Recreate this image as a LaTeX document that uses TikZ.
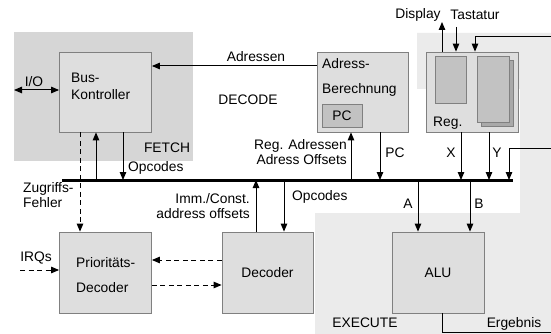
\documentclass[tikz,border=0pt]{standalone}
\usepackage{fontspec}
\setmainfont{Liberation Sans}
\usetikzlibrary{arrows.meta,calc}
\definecolor{boxfill}{HTML}{DEDEDE}
\definecolor{boxline}{HTML}{808080}
\definecolor{fetchbg}{HTML}{D6D6D6}
\definecolor{execbg}{HTML}{EBEBEB}
\definecolor{innerfill}{HTML}{C2C2C2}
\definecolor{backfill}{HTML}{A9A9A9}
\begin{document}
\begin{tikzpicture}[x=1pt,y=-1pt,
  font=\fontsize{13.8}{16}\selectfont,
  box/.style={draw=boxline,fill=boxfill,line width=0.8pt,inner sep=0pt,
    minimum width=92pt,minimum height=80pt},
  subbox/.style={draw=boxline,fill=innerfill,line width=0.8pt},
  arr/.style={-{Triangle[length=8pt,width=6.5pt]},line width=1pt},
  darr/.style={arr,dash pattern=on 5pt off 3.5pt},
  line/.style={line width=1pt},
  lbl/.style={inner sep=0pt}]
\useasboundingbox (0,0) rectangle (551,334);

% stage backgrounds
\fill[fetchbg] (14,32) rectangle (193,161);
\fill[execbg] (417,33) -- (551,33) -- (551,334) -- (315,334) -- (315,213)
  -- (520,213) -- (520,89) -- (417,89) -- cycle;

% blocks
\node[box] (bk) at (105.5,92) {};
\node[box,minimum width=91pt] (ab) at (362.5,92) {};
\node[box] (reg) at (472,92) {};
\node[box,minimum height=81pt] (pd) at (105.5,272.5) {};
\node[box,minimum width=91pt,minimum height=81pt] (dec) at (267.5,272.5) {Decoder};
\node[box,minimum height=81pt] (alu) at (438,272.5) {ALU};

% block texts
\node[lbl,anchor=west] (bkt1) at (71,78) {Bus-};
\node[lbl,anchor=west] (bkt2) at (71,95) {Kontroller};
\node[lbl,anchor=west] (abt1) at (322,64) {Adress-};
\node[lbl,anchor=west] (abt2) at (322,90) {Berechnung};
\node[subbox,minimum width=40pt,minimum height=23pt,inner sep=0pt] (pc) at (342,115.5) {PC};
\node[lbl,anchor=west] (pdt1) at (76,263) {Prioritäts-};
\node[lbl,anchor=west] (pdt2) at (76,288) {Decoder};

% register files inside Reg.
\node[subbox,minimum width=31pt,minimum height=47pt,inner sep=0pt] (r1) at (450.5,79.5) {};
\node[draw=boxline,fill=backfill,line width=0.8pt,minimum width=32pt,minimum height=66pt,inner sep=0pt] (r2b) at (497,93) {};
\node[subbox,minimum width=32pt,minimum height=66pt,inner sep=0pt] (r2) at (493,89) {};
\node[lbl,anchor=west] (regt) at (433,123) {Reg.};

% internal bus
\coordinate (busL) at (62,180);
\coordinate (busR) at (513,180);
\draw[line width=3pt] (busL) -- (busR);

% fetch connections
\coordinate (ioL) at (14,90);
\draw[{Triangle[length=8pt,width=6.5pt]}-{Triangle[length=8pt,width=6.5pt]},line width=1pt] (ioL) -- (ioL -| bk.west);
\node[lbl] (io) at (34,82) {I/O};
\draw[darr] ([xshift=-25.5pt]bk.south) -- ([xshift=-25.5pt]pd.north);
\draw[arr] ([xshift=-9.5pt]bk.south |- busL) -- ([xshift=-9.5pt]bk.south);
\draw[arr] ([xshift=17.5pt]bk.south) -- ([xshift=17.5pt]bk.south |- busL);
\node[lbl,anchor=west] (opc1) at (128,168) {Opcodes};
\node[lbl] (fetch) at (167,148) {FETCH};

% decode connections
\draw[arr] ([yshift=26pt]ab.west) -- ([yshift=26pt]ab.west -| bk.east);
\node[lbl] (adr) at (256,57) {Adressen};
\node[lbl] (decode) at (248,100) {DECODE};
\draw[arr] ([xshift=-11.5pt]ab.south |- busL) -- ([xshift=-11.5pt]ab.south);
\node[lbl,anchor=east,align=right] (rega) at (347,152.5) {Reg. Adressen\\[-1pt]Adress Offsets};
\draw[arr] ([xshift=17.5pt]ab.south) -- ([xshift=17.5pt]ab.south |- busL);
\node[lbl] (pcl) at (395,153) {PC};
\draw[arr] ([xshift=-11.5pt]dec.north) -- ([xshift=-11.5pt]dec.north |- busL);
\node[lbl,anchor=east,align=right] (imm) at (250,206) {Imm./Const.\\[-1pt]address offsets};
\draw[arr] ([xshift=16.5pt]dec.north |- busL) -- ([xshift=16.5pt]dec.north);
\node[lbl,anchor=west] (opc2) at (292,197) {Opcodes};
\node[lbl,anchor=west,align=left] (zf) at (23,195.5) {Zugriffs-\\[-1pt]Fehler};

% interrupt path
\draw[darr] ([yshift=12.5pt]dec.west) -- ([yshift=12.5pt]dec.west -| pd.east);
\draw[darr] ([yshift=-12.5pt]pd.east) -- ([yshift=-12.5pt]pd.east -| dec.west);
\coordinate (irqL) at (20,270);
\draw[darr] (irqL) -- (irqL -| pd.west);
\node[lbl] (irq) at (36,258) {IRQs};

% register file connections
\coordinate (dispT) at (442,22);
\coordinate (tastT) at (456,27);
\draw[arr] (reg.north -| dispT) -- (dispT);
\draw[arr] (tastT) -- (reg.north -| tastT);
\node[lbl] (disp) at (418,15) {Display};
\node[lbl] (tast) at (475,15) {Tastatur};
\coordinate (inR) at (551,37);
\coordinate (inC) at (475,37);
\draw[arr] (inR) -- (inC) -- (reg.north -| inC);
\draw[arr] ([xshift=-11pt]reg.south) -- ([xshift=-11pt]reg.south |- busL);
\draw[arr] ([xshift=17pt]reg.south) -- ([xshift=17pt]reg.south |- busL);
\node[lbl] (xl) at (451,153) {X};
\node[lbl] (yl) at (497,153) {Y};
\coordinate (wbR) at (551,148);
\coordinate (wbC) at (509,148);
\draw[arr] (wbR) -- (wbC) -- (wbC |- busL);

% execute connections
\draw[arr] ([xshift=-20pt]alu.north |- busL) -- ([xshift=-20pt]alu.north);
\draw[arr] ([xshift=32pt]alu.north |- busL) -- ([xshift=32pt]alu.north);
\node[lbl] (al) at (408,204) {A};
\node[lbl] (bl) at (479,204) {B};
\coordinate (resR) at (551,332);
\draw[line] ([xshift=4pt]alu.south) |- (resR);
\node[lbl] (erg) at (514,324) {Ergebnis};
\node[lbl] (exec) at (365,323) {EXECUTE};
\end{tikzpicture}
\end{document}
